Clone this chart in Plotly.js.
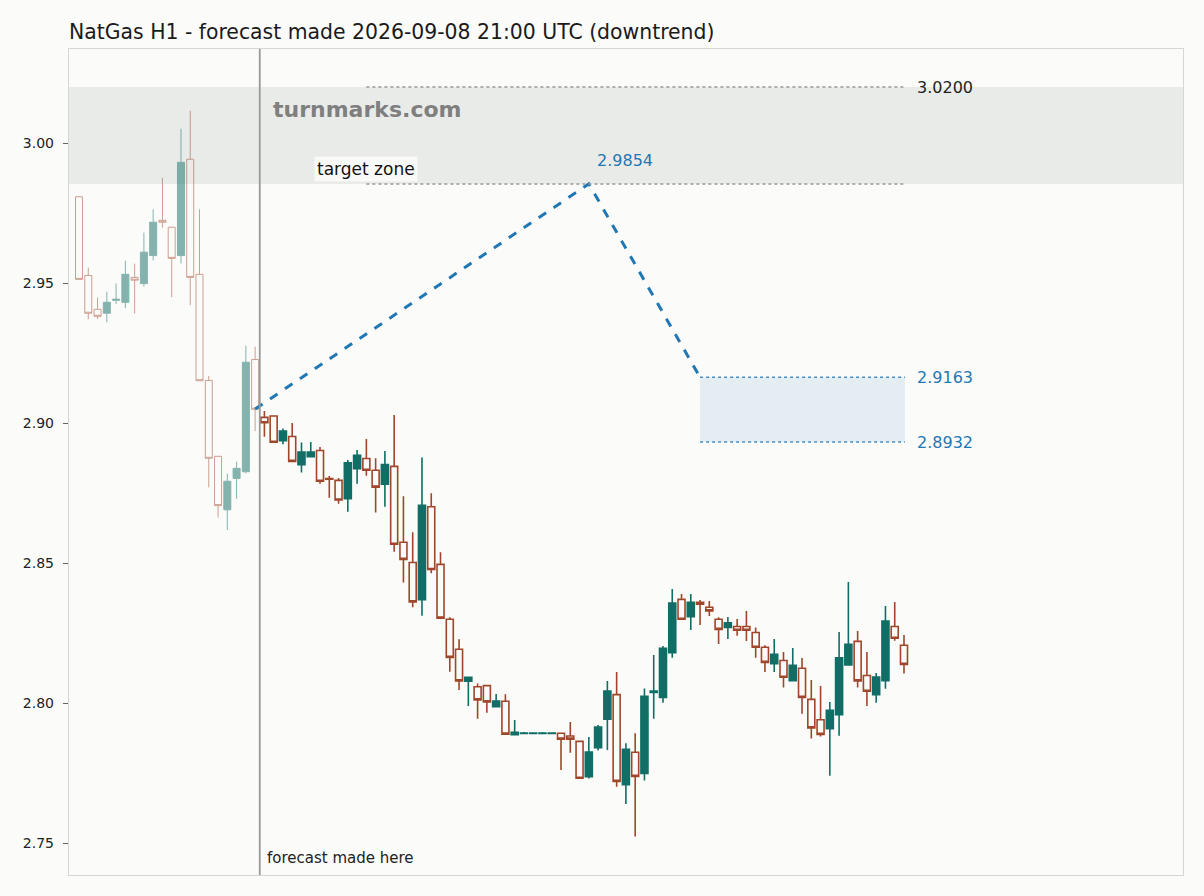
<!DOCTYPE html>
<html>
<head>
<meta charset="utf-8">
<script src="https://cdn.plot.ly/plotly-3.0.1.min.js"></script>
<style>
html,body{margin:0;padding:0;background:#fbfbf9;}
#chart{width:1204px;height:896px;}
</style>
</head>
<body>
<div id="chart"></div>
<script>
// Historical candles (before forecast), index 0..19
const histOpen  = [2.9808,2.9527,2.9406,2.9392,2.9438,2.9431,2.9520,2.9498,2.9598,2.9724,2.9699,2.9598,2.9942,2.9531,2.9152,2.8881,2.8690,2.8802,2.8826,2.9227];
const histHigh  = [2.9808,2.9555,2.9448,2.9469,2.9498,2.9579,2.9569,2.9680,2.9763,2.9876,2.9699,3.0051,3.0115,2.9763,2.9168,2.8881,2.8819,2.8862,2.9276,2.9273];
const histLow   = [2.9513,2.9371,2.9371,2.9360,2.9425,2.9410,2.9392,2.9487,2.9581,2.9698,2.9449,2.9570,2.9421,2.9151,2.8770,2.8662,2.8618,2.8729,2.8820,2.8971];
const histClose = [2.9513,2.9392,2.9381,2.9431,2.9442,2.9531,2.9510,2.9610,2.9717,2.9717,2.9588,2.9931,2.9520,2.9151,2.8874,2.8705,2.8792,2.8838,2.9217,2.9049];

// Candles after the forecast was made, index 20..89
const postOpen  = [2.9020,2.9025,2.8937,2.8952,2.8851,2.8880,2.8902,2.8802,2.8795,2.8730,
                   2.8837,2.8873,2.8831,2.8781,2.8845,2.8574,2.8502,2.8369,2.8701,2.8495,
                   2.8299,2.8192,2.8078,2.8058,2.8062,2.7987,2.8006,2.7887,2.7891,2.7891,
                   2.7891,2.7891,2.7892,2.7882,2.7863,2.7737,2.7840,2.7942,2.8030,2.7708,
                   2.7824,2.7748,2.8038,2.8020,2.8180,2.8370,2.8308,2.8360,2.8342,2.8299,
                   2.8270,2.8273,2.8273,2.8252,2.8199,2.8140,2.8152,2.8080,2.8124,2.8013,
                   2.7940,2.7908,2.7958,2.8136,2.8220,2.8098,2.8030,2.8080,2.8273,2.8206];
const postHigh  = [2.9043,2.9025,2.8980,2.9000,2.8930,2.8932,2.8914,2.8811,2.8804,2.8868,
                   2.8904,2.8943,2.8874,2.8900,2.9029,2.8738,2.8610,2.8877,2.8749,2.8538,
                   2.8306,2.8228,2.8092,2.8070,2.8062,2.8032,2.8031,2.7939,2.7896,2.7893,
                   2.7896,2.7893,2.7892,2.7932,2.7863,2.7879,2.7921,2.8079,2.8111,2.7856,
                   2.7892,2.8052,2.8171,2.8204,2.8407,2.8389,2.8389,2.8368,2.8364,2.8306,
                   2.8307,2.8300,2.8329,2.8270,2.8206,2.8229,2.8182,2.8196,2.8161,2.8082,
                   2.8061,2.8004,2.8254,2.8432,2.8257,2.8182,2.8107,2.8346,2.8361,2.8243];
const postLow   = [2.8951,2.8931,2.8924,2.8863,2.8823,2.8880,2.8783,2.8733,2.8712,2.8683,
                   2.8783,2.8812,2.8680,2.8701,2.8540,2.8430,2.8342,2.8312,2.8463,2.8303,
                   2.8112,2.8046,2.7989,2.7944,2.7965,2.7987,2.7889,2.7887,2.7891,2.7891,
                   2.7891,2.7891,2.7761,2.7822,2.7731,2.7730,2.7830,2.7832,2.7701,2.7639,
                   2.7523,2.7723,2.7944,2.8001,2.8162,2.8299,2.8261,2.8279,2.8311,2.8211,
                   2.8229,2.8240,2.8221,2.8162,2.8111,2.8111,2.8055,2.8080,2.7962,2.7873,
                   2.7880,2.7740,2.7883,2.8136,2.8055,2.7989,2.8001,2.8051,2.8222,2.8105];
const postClose = [2.9001,2.8931,2.8971,2.8863,2.8896,2.8896,2.8792,2.8799,2.8725,2.8858,
                   2.8885,2.8831,2.8771,2.8852,2.8567,2.8513,2.8361,2.8706,2.8477,2.8303,
                   2.8163,2.8079,2.8092,2.8011,2.8004,2.8007,2.7889,2.7895,2.7893,2.7893,
                   2.7893,2.7893,2.7871,2.7871,2.7731,2.7825,2.7914,2.8043,2.7720,2.7835,
                   2.7738,2.8024,2.8043,2.8195,2.8357,2.8299,2.8360,2.8353,2.8329,2.8263,
                   2.8286,2.8260,2.8260,2.8199,2.8145,2.8174,2.8092,2.8135,2.8020,2.7911,
                   2.7888,2.7974,2.8161,2.8210,2.8079,2.8042,2.8093,2.8293,2.8231,2.8138];

// Forecast path (bar index, price)
const pathX = [19, 55, 67];
const pathY = [2.905, 2.9854, 2.9163];

// Levels
const targetLow = 2.9854, targetHigh = 3.0200;
const boxHigh = 2.9163, boxLow = 2.8932;
const forecastAt = 19.5;
const levelStart = 31, levelEnd = 89.1, boxStart = 67;
const yTicks = [2.75, 2.80, 2.85, 2.90, 2.95, 3.00];

const histX = histOpen.map((_, i) => i);
const postX = postOpen.map((_, i) => i + histOpen.length);

const TEAL = '#106e66', RUST = '#a0462a', BLUE = '#1f77b4', BG = '#fbfbf9';

const traces = [
  {
    type: 'candlestick', x: histX, open: histOpen, high: histHigh, low: histLow, close: histClose,
    opacity: 0.5, whiskerwidth: 0,
    increasing: {line: {color: TEAL, width: 1}, fillcolor: TEAL},
    decreasing: {line: {color: RUST, width: 1}, fillcolor: 'rgba(0,0,0,0)'},
    hoverinfo: 'skip', showlegend: false
  },
  {
    type: 'candlestick', x: postX, open: postOpen, high: postHigh, low: postLow, close: postClose,
    whiskerwidth: 0,
    increasing: {line: {color: TEAL, width: 1.6}, fillcolor: TEAL},
    decreasing: {line: {color: RUST, width: 1.6}, fillcolor: 'rgba(0,0,0,0)'},
    hoverinfo: 'skip', showlegend: false
  },
  {
    type: 'scatter', mode: 'lines', x: pathX, y: pathY,
    line: {color: BLUE, width: 3, dash: 'dash'},
    hoverinfo: 'skip', showlegend: false
  }
];

const layout = {
  width: 1204, height: 896,
  paper_bgcolor: BG, plot_bgcolor: BG,
  margin: {l: 69, r: 21, t: 49, b: 21},
  font: {family: 'DejaVu Sans', color: '#222', size: 14},
  boxgap: 0.245, boxgroupgap: 0,
  showlegend: false,
  title: {
    text: 'NatGas H1 - forecast made 2026-09-08 21:00 UTC (downtrend)',
    x: 0, xref: 'paper', xanchor: 'left',
    y: 1 - 32/896, yref: 'container', yanchor: 'middle',
    font: {size: 20.4, color: '#1a1a1a', family: 'DejaVu Sans'}
  },
  xaxis: {
    range: [-1.08, 119.1], showticklabels: false, ticks: '', showgrid: false, zeroline: false,
    showline: true, mirror: true, linecolor: '#d3d7d5', linewidth: 1.2,
    rangeslider: {visible: false}, fixedrange: true
  },
  yaxis: {
    range: [2.73857, 3.03357], tickvals: yTicks, ticktext: yTicks.map(v => v.toFixed(2)),
    ticks: 'outside', ticklen: 5, tickwidth: 1, tickcolor: '#666',
    ticklabelstandoff: 6,
    showgrid: false, zeroline: false,
    showline: true, mirror: true, linecolor: '#d3d7d5', linewidth: 1.2,
    tickfont: {size: 14, color: '#222'}, fixedrange: true
  },
  shapes: [
    {type: 'rect', xref: 'paper', x0: 0, x1: 1, yref: 'y', y0: targetLow, y1: targetHigh,
     fillcolor: '#e9ebe9', line: {width: 0}, layer: 'below'},
    {type: 'line', xref: 'x', yref: 'y', x0: levelStart, x1: levelEnd, y0: targetHigh, y1: targetHigh,
     line: {color: '#999', width: 1.5, dash: 'dot'}},
    {type: 'line', xref: 'x', yref: 'y', x0: levelStart, x1: levelEnd, y0: targetLow, y1: targetLow,
     line: {color: '#999', width: 1.5, dash: 'dot'}},
    {type: 'rect', xref: 'x', yref: 'y', x0: boxStart, x1: levelEnd, y0: boxLow, y1: boxHigh,
     fillcolor: 'rgba(31,119,180,0.1)', line: {width: 0}, layer: 'below'},
    {type: 'line', xref: 'x', yref: 'y', x0: boxStart, x1: levelEnd, y0: boxHigh, y1: boxHigh,
     line: {color: BLUE, width: 1.5, dash: 'dot'}, opacity: 0.8},
    {type: 'line', xref: 'x', yref: 'y', x0: boxStart, x1: levelEnd, y0: boxLow, y1: boxLow,
     line: {color: BLUE, width: 1.5, dash: 'dot'}, opacity: 0.8},
    {type: 'line', xref: 'x', yref: 'paper', x0: forecastAt, x1: forecastAt, y0: 0, y1: 1,
     line: {color: '#999', width: 1.8}}
  ],
  annotations: [
    {text: 'turnmarks.com', xref: 'x', yref: 'y', x: 20.7, y: 3.0118, xanchor: 'left', yanchor: 'middle',
     showarrow: false, font: {size: 22, color: '#7f7f7f', family: 'DejaVu Sans', weight: 'bold'}},
    {text: 'target zone', xref: 'x', yref: 'y', x: 31, y: 2.9907, xanchor: 'center', yanchor: 'middle',
     showarrow: false, font: {size: 17, color: '#111'}, bgcolor: 'rgba(252,252,250,0.85)', borderpad: 2},
    {text: targetHigh.toFixed(4), xref: 'x', yref: 'y', x: 90.2, y: targetHigh, xanchor: 'left', yanchor: 'middle',
     showarrow: false, font: {size: 16, color: '#222'}},
    {text: pathY[1].toFixed(4), xref: 'x', yref: 'y', x: 55.7, y: 2.9939, xanchor: 'left', yanchor: 'middle',
     showarrow: false, font: {size: 16, color: BLUE}},
    {text: boxHigh.toFixed(4), xref: 'x', yref: 'y', x: 90.2, y: boxHigh, xanchor: 'left', yanchor: 'middle',
     showarrow: false, font: {size: 16, color: BLUE}},
    {text: boxLow.toFixed(4), xref: 'x', yref: 'y', x: 90.2, y: boxLow, xanchor: 'left', yanchor: 'middle',
     showarrow: false, font: {size: 16, color: BLUE}},
    {text: 'forecast made here', xref: 'x', yref: 'y', x: 20.1, y: 2.7446, xanchor: 'left', yanchor: 'middle',
     showarrow: false, font: {size: 15, color: '#222'}}
  ]
};

Plotly.newPlot('chart', traces, layout, {staticPlot: true, displayModeBar: false});
</script>
</body>
</html>
